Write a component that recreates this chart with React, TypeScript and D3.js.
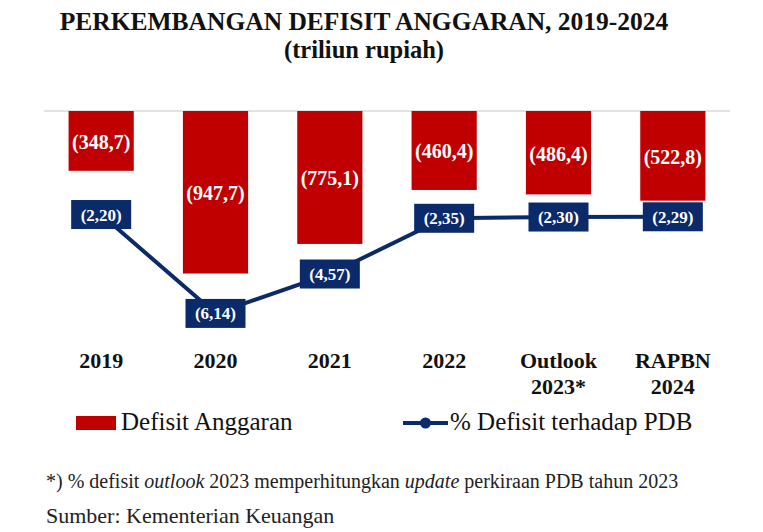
import * as d3 from "d3";
import { useEffect, useRef } from "react";

// data
const categories = ["2019", "2020", "2021", "2022", "Outlook\n2023*", "RAPBN\n2024"];
const defisit = [348.7, 947.7, 775.1, 460.4, 486.4, 522.8];
const persenPDB = [2.2, 6.14, 4.57, 2.35, 2.3, 2.29];

const W = 763;
const H = 532;
const RED = "#c00000";
const NAVY = "#0b2a69";
const SERIF = "'Liberation Serif', 'Times New Roman', serif";

const fmt = (v: number, d: number) => `(${v.toFixed(d).replace(".", ",")})`;

export default function App() {
  const ref = useRef<SVGSVGElement | null>(null);

  useEffect(() => {
    if (!ref.current) return;
    const svg = d3.select(ref.current);
    svg.selectAll("*").remove();

    svg.append("rect").attr("width", W).attr("height", H).attr("fill", "#fff");

    /* ---------- TITLE ---------- */
    svg
      .append("text")
      .attr("x", 364)
      .attr("y", 30)
      .attr("text-anchor", "middle")
      .style("font-family", SERIF)
      .style("font-size", "25.5px")
      .style("font-weight", "bold")
      .style("fill", "#111")
      .text("PERKEMBANGAN DEFISIT ANGGARAN, 2019-2024");

    svg
      .append("text")
      .attr("x", 364)
      .attr("y", 58)
      .attr("text-anchor", "middle")
      .style("font-family", SERIF)
      .style("font-size", "24.5px")
      .style("font-weight", "bold")
      .style("fill", "#111")
      .text("(triliun rupiah)");

    /* ---------- SCALES ---------- */
    const x = d3
      .scaleBand<string>()
      .domain(categories)
      .range([44, 730])
      .paddingInner(0.43)
      .paddingOuter(0.215);

    const top = 111;
    const yBar = d3.scaleLinear().domain([0, 1000]).range([top, top + 171.5]);
    const yLine = d3.scaleLinear().domain([0, 7]).range([159.3, 159.3 + 175.7]);

    /* ---------- BASELINE ---------- */
    svg
      .append("line")
      .attr("x1", 44)
      .attr("x2", 730)
      .attr("y1", top)
      .attr("y2", top)
      .attr("stroke", "#d9d9d9")
      .attr("stroke-width", 1.5);

    /* ---------- BARS ---------- */
    svg
      .selectAll(".bar")
      .data(defisit)
      .enter()
      .append("rect")
      .attr("x", (_, i) => x(categories[i])!)
      .attr("y", yBar(0))
      .attr("width", x.bandwidth())
      .attr("height", (d) => yBar(d) - yBar(0))
      .attr("fill", RED);

    svg
      .selectAll(".barlabel")
      .data(defisit)
      .enter()
      .append("text")
      .attr("x", (_, i) => x(categories[i])! + x.bandwidth() / 2)
      .attr("y", (d) => (yBar(0) + yBar(d)) / 2 + 8)
      .attr("text-anchor", "middle")
      .style("font-family", SERIF)
      .style("font-size", "20px")
      .style("font-weight", "bold")
      .style("fill", "#fff")
      .text((d) => fmt(d, 1));

    /* ---------- LINE ---------- */
    const cx = (i: number) => x(categories[i])! + x.bandwidth() / 2;
    const line = d3
      .line<number>()
      .x((_, i) => cx(i))
      .y((d) => yLine(d));

    svg
      .append("path")
      .datum(persenPDB)
      .attr("d", line)
      .attr("fill", "none")
      .attr("stroke", NAVY)
      .attr("stroke-width", 4);

    const boxW = 60;
    const boxH = 29;
    svg
      .selectAll(".box")
      .data(persenPDB)
      .enter()
      .append("rect")
      .attr("x", (_, i) => cx(i) - boxW / 2)
      .attr("y", (d) => yLine(d) - boxH / 2)
      .attr("width", boxW)
      .attr("height", boxH)
      .attr("fill", NAVY);

    svg
      .selectAll(".boxlabel")
      .data(persenPDB)
      .enter()
      .append("text")
      .attr("x", (_, i) => cx(i))
      .attr("y", (d) => yLine(d) + 6)
      .attr("text-anchor", "middle")
      .style("font-family", SERIF)
      .style("font-size", "17px")
      .style("font-weight", "bold")
      .style("fill", "#fff")
      .text((d) => fmt(d, 2));

    /* ---------- CATEGORY LABELS ---------- */
    const cat = svg
      .selectAll(".cat")
      .data(categories)
      .enter()
      .append("text")
      .attr("text-anchor", "middle")
      .style("font-family", SERIF)
      .style("font-size", "22px")
      .style("font-weight", "bold")
      .style("fill", "#111");

    cat
      .selectAll("tspan")
      .data((d) => d.split("\n").map((t) => ({ t, c: d })))
      .enter()
      .append("tspan")
      .attr("x", (d) => x(d.c)! + x.bandwidth() / 2)
      .attr("y", (_, j) => 367.5 + j * 26)
      .text((d) => d.t);

    /* ---------- LEGEND ---------- */
    svg.append("rect").attr("x", 76).attr("y", 416).attr("width", 40).attr("height", 14).attr("fill", RED);
    svg
      .append("text")
      .attr("x", 121)
      .attr("y", 430)
      .style("font-family", SERIF)
      .style("font-size", "25px")
      .style("fill", "#111")
      .text("Defisit Anggaran");

    svg
      .append("line")
      .attr("x1", 403)
      .attr("x2", 448)
      .attr("y1", 423)
      .attr("y2", 423)
      .attr("stroke", NAVY)
      .attr("stroke-width", 4);
    svg.append("circle").attr("cx", 425.5).attr("cy", 423).attr("r", 5.5).attr("fill", NAVY);
    svg
      .append("text")
      .attr("x", 450)
      .attr("y", 430)
      .style("font-family", SERIF)
      .style("font-size", "25px")
      .style("fill", "#111")
      .text("% Defisit terhadap PDB");

    /* ---------- FOOTNOTE ---------- */
    const note = svg
      .append("text")
      .attr("x", 46)
      .attr("y", 488)
      .style("font-family", SERIF)
      .style("font-size", "20px")
      .style("fill", "#222");
    note.append("tspan").text("*) % defisit ");
    note.append("tspan").style("font-style", "italic").text("outlook");
    note.append("tspan").text(" 2023 memperhitungkan ");
    note.append("tspan").style("font-style", "italic").text("update");
    note.append("tspan").text(" perkiraan PDB tahun 2023");

    svg
      .append("text")
      .attr("x", 46)
      .attr("y", 523)
      .style("font-family", SERIF)
      .style("font-size", "22px")
      .style("fill", "#222")
      .text("Sumber: Kementerian Keuangan");
  }, []);

  return (
    <svg
      ref={ref}
      width={W}
      height={H}
      style={{ position: "absolute", left: 0, top: 0, display: "block" }}
    />
  );
}
